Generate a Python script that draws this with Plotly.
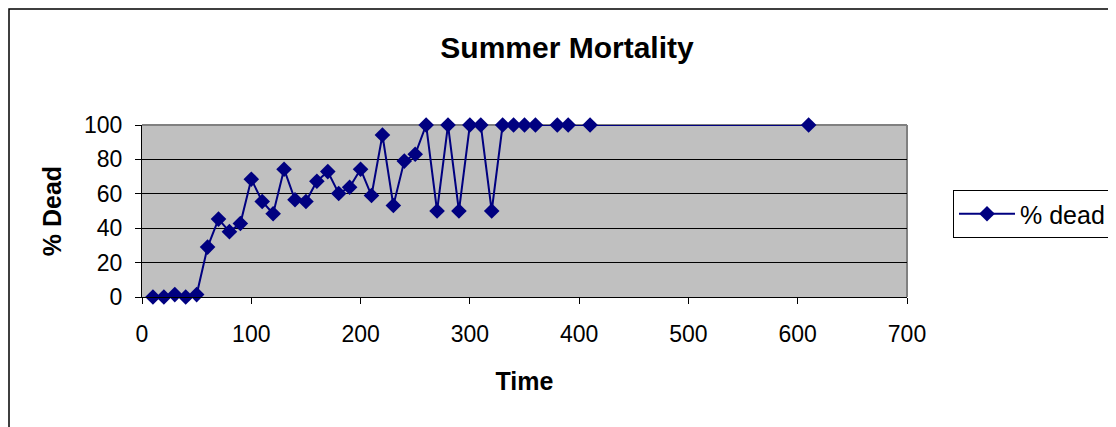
import plotly.graph_objects as go

time = [10, 20, 30, 40, 50, 60, 70, 80, 90, 100, 110, 120, 130, 140, 150, 160, 170, 180, 190, 200,
        210, 220, 230, 240, 250, 260, 270, 280, 290, 300, 310, 320, 330, 340, 350, 360, 380, 390, 410, 610]
pct_dead = [0, 0, 1.4, 0, 1.4, 29, 45.3, 38, 42.7, 68.5, 55.5, 48.4, 74.3, 56.5, 55.5, 67.3, 72.9, 60.2, 63.8, 74.3,
            59, 94.2, 53.2, 79, 83, 100, 50, 100, 50, 100, 100, 50, 100, 100, 100, 100, 100, 100, 100, 100]

series_name = "% dead"
title_text = "Summer Mortality"
x_title = "Time"
y_title = "% Dead"

FONT = "Liberation Sans, Arial, sans-serif"
NAVY = "#000080"

# page has an 8px body margin; work in page coordinates and shift
OFF = 8
W, H = 1116 - OFF, 427 - OFF
L, R, T, B = 142 - OFF, 907 - OFF, 125 - OFF, 297 - OFF
pw, ph = R - L, B - T

def px(xp):
    return (xp - OFF - L) / pw

def py(yp):
    return (B - (yp - OFF)) / ph

fig = go.Figure()
fig.add_trace(go.Scatter(
    x=time, y=pct_dead, mode="lines+markers", name=series_name,
    line=dict(color=NAVY, width=2),
    marker=dict(symbol="diamond", size=12, color=NAVY),
    cliponaxis=False,
))

fig.update_layout(
    width=W, height=H,
    margin=dict(l=L, r=W - R, t=T, b=H - B, autoexpand=False),
    paper_bgcolor="white",
    plot_bgcolor="#C0C0C0",
    font=dict(family=FONT, size=23, color="black"),
    title=dict(text=f"<b>{title_text}</b>", x=(567 - OFF) / W, xanchor="center",
               y=1 - (47 - OFF) / H, yanchor="middle", font=dict(size=30, family=FONT)),
    showlegend=True,
    legend=dict(x=px(953), xanchor="left", y=py(190), yanchor="top",
                bordercolor="black", borderwidth=1, bgcolor="white",
                font=dict(size=25, family=FONT), itemwidth=56,
                tracegroupgap=0),
    shapes=[
        dict(type="rect", xref="paper", yref="paper",
             x0=px(9), x1=px(1140), y0=py(450), y1=py(9),
             line=dict(color="black", width=1.5), fillcolor="rgba(0,0,0,0)", layer="below"),
        dict(type="line", xref="paper", yref="paper", x0=0, x1=1, y0=1, y1=1,
             line=dict(color="#808080", width=2), layer="below"),
        dict(type="line", xref="paper", yref="paper", x0=1, x1=1, y0=0, y1=1,
             line=dict(color="#808080", width=2), layer="below"),
    ],
)

fig.update_xaxes(
    range=[0, 700], tick0=0, dtick=100, showgrid=False, zeroline=False,
    showline=True, linecolor="black", linewidth=1,
    ticks="outside", ticklen=6, tickcolor="black", ticklabelstandoff=10,
    tickfont=dict(size=23, family=FONT),
    title=dict(text=f"<b>{x_title}</b>", font=dict(size=25, family=FONT), standoff=26),
)
fig.update_yaxes(
    range=[0, 100], tick0=0, dtick=20, showgrid=True, gridcolor="black", gridwidth=1,
    zeroline=False, showline=True, linecolor="black", linewidth=1,
    ticks="outside", ticklen=6, tickcolor="black", ticklabelstandoff=8,
    tickfont=dict(size=23, family=FONT),
    title=dict(text=f"<b>{y_title}</b>", font=dict(size=25, family=FONT), standoff=15),
)

fig.write_html("out.html")
